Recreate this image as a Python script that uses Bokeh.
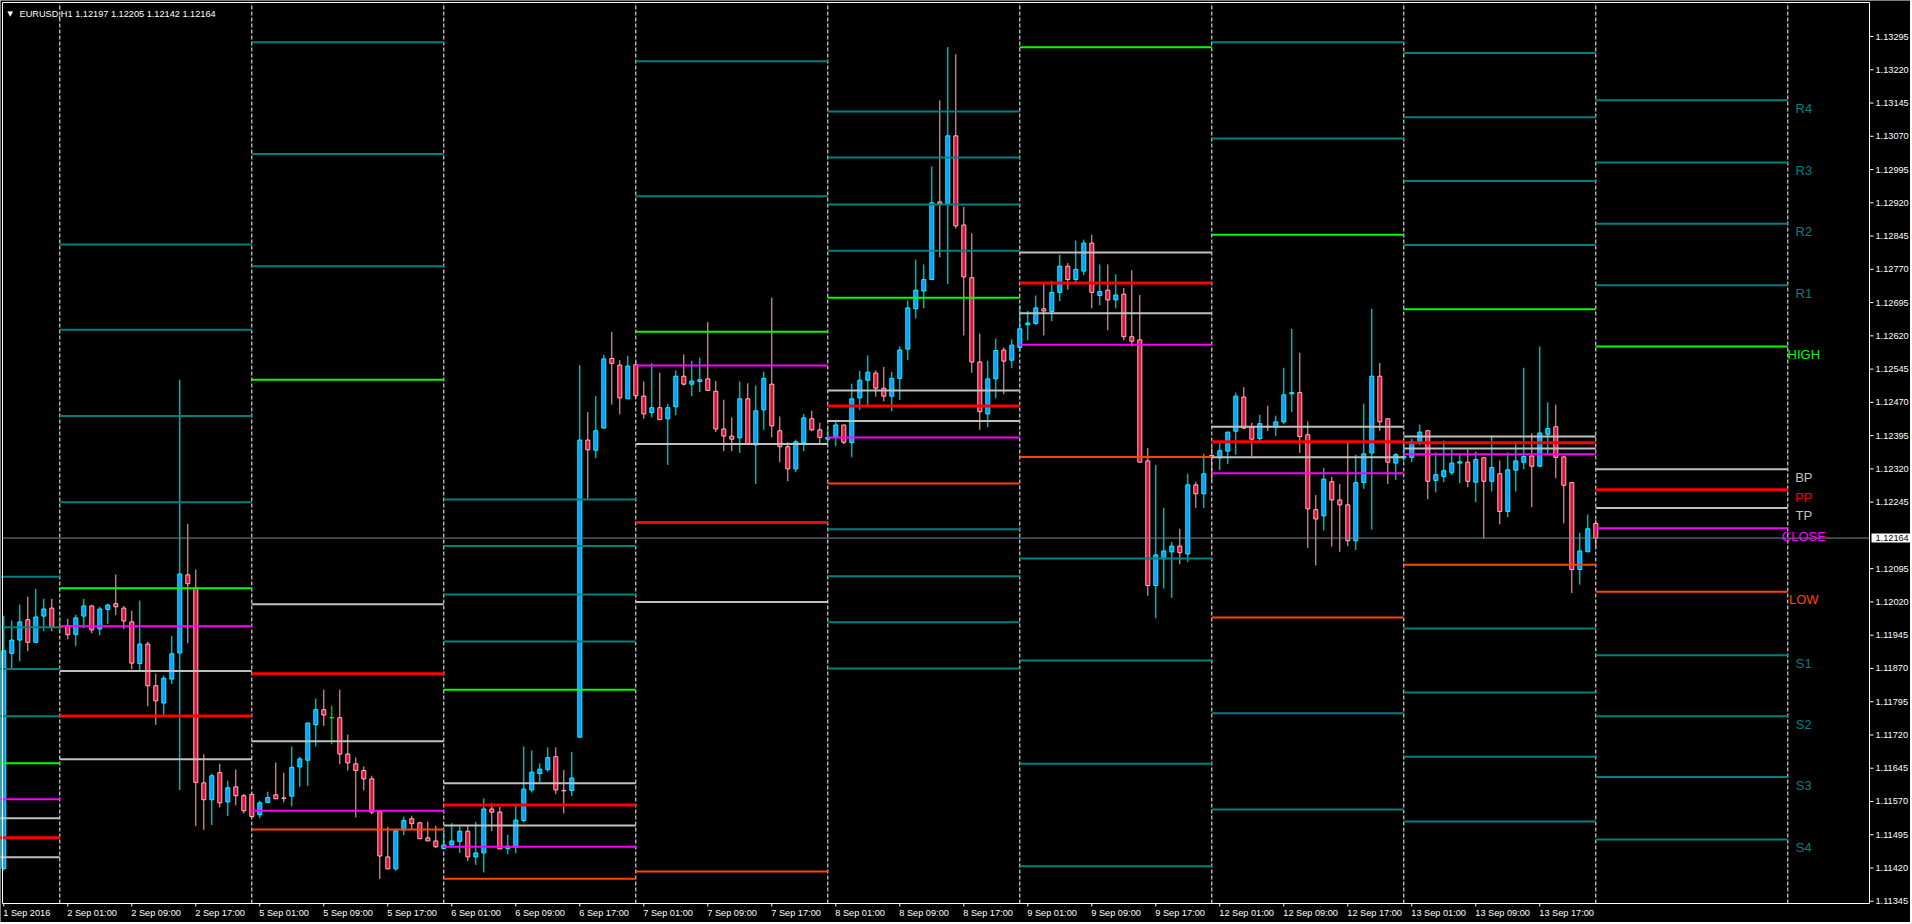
from bokeh.plotting import figure
from bokeh.models import Range1d, ColumnDataSource
from bokeh.embed import file_html
from bokeh.resources import INLINE
from bokeh.core.properties import value

# ---------------- data (EURUSD H1, 1 Sep 17:00 .. 14 Sep 00:00) ----------------
symbol = "EURUSD,H1"
last_ohlc = "1.12197 1.12205 1.12142 1.12164"
bid = 1.12164

opens = [
 1.11419,1.11904,1.11934,1.11980,1.11929,1.11988,1.12006,
 1.11963,1.11966,1.11947,1.11988,1.12011,1.11959,1.12003,1.12016,1.12006,1.11975,1.11881,1.11925,
 1.11831,1.11792,1.11846,1.11905,1.12081,1.12051,1.11612,1.11574,1.11635,1.11569,1.11603,1.11583,
 1.11586,1.11540,1.11568,1.11585,1.11578,1.11582,1.11648,1.11663,1.11743,1.11777,1.11759,1.11759,
 1.11677,1.11655,1.11640,1.11621,1.11547,1.11445,1.11418,1.11506,1.11531,1.11522,1.11488,1.11481,
 1.11464,1.11472,1.11480,1.11503,1.11445,1.11454,1.11553,1.11546,1.11464,1.11467,1.11527,1.11596,
 1.11633,1.11642,1.11671,1.11595,1.11595,1.11715,1.12385,1.12362,1.12412,1.12569,1.12554,1.12478,
 1.12555,1.12484,1.12447,1.12458,1.12433,1.12460,1.12529,1.12511,1.12517,1.12523,1.12495,1.12410,
 1.12394,1.12390,1.12478,1.12374,1.12453,1.12511,1.12406,1.12370,1.12320,1.12379,1.12433,1.12408,
 1.12387,1.12391,1.12419,1.12379,1.12480,1.12520,1.12536,1.12502,1.12484,1.12524,1.12590,1.12681,
 1.12721,1.12747,1.12922,1.12918,1.13071,1.12870,1.12751,1.12561,1.12444,1.12523,1.12588,1.12565,
 1.12594,1.12645,1.12648,1.12681,1.12675,1.12718,1.12777,1.12747,1.12766,1.12829,1.12711,1.12723,
 1.12701,1.12714,1.12618,1.12611,1.12338,1.12057,1.12117,1.12133,1.12146,1.12128,1.12284,1.12264,
 1.12350,1.12345,1.12360,1.12405,1.12482,1.12414,1.12388,1.12416,1.12415,1.12426,1.12489,1.12492,
 1.12397,1.12228,1.12214,1.12291,1.12250,1.12239,1.12158,1.12289,1.12356,1.12529,1.12433,1.12333,
 1.12345,1.12346,1.12382,1.12406,1.12294,1.12303,1.12312,1.12333,1.12335,1.12290,1.12345,1.12292,
 1.12309,1.12224,1.12317,1.12335,1.12349,1.12326,1.12398,1.12415,1.12347,1.12289,1.12093,1.12133,
 1.12197]
highs = [
 1.11989,1.11978,1.12014,1.12032,1.12049,1.12027,1.12027,
 1.11985,1.11982,1.11991,1.12027,1.12013,1.12009,1.12016,1.12082,1.12011,1.12000,1.12023,1.11930,
 1.11858,1.11854,1.11943,1.12521,1.12196,1.12093,1.11676,1.11633,1.11655,1.11617,1.11642,1.11587,
 1.11588,1.11572,1.11592,1.11658,1.11635,1.11694,1.11671,1.11747,1.11802,1.11822,1.11786,1.11822,
 1.11721,1.11669,1.11649,1.11628,1.11551,1.11513,1.11504,1.11536,1.11538,1.11524,1.11524,1.11515,
 1.11504,1.11521,1.11514,1.11514,1.11524,1.11577,1.11566,1.11558,1.11495,1.11565,1.11694,1.11685,
 1.11656,1.11692,1.11692,1.11641,1.11682,1.12554,1.12448,1.12484,1.12577,1.12629,1.12565,1.12575,
 1.12562,1.12517,1.12558,1.12537,1.12467,1.12542,1.12578,1.12564,1.12571,1.12651,1.12518,1.12476,
 1.12436,1.12517,1.12513,1.12508,1.12539,1.12706,1.12438,1.12380,1.12386,1.12444,1.12451,1.12424,
 1.12413,1.12431,1.12419,1.12512,1.12541,1.12576,1.12542,1.12550,1.12539,1.12596,1.12700,1.12792,
 1.12781,1.13002,1.13151,1.13271,1.13255,1.12911,1.12851,1.12625,1.12564,1.12614,1.12594,1.12612,
 1.12688,1.12676,1.12711,1.12740,1.12744,1.12803,1.12784,1.12835,1.12837,1.12848,1.12781,1.12781,
 1.12759,1.12728,1.12768,1.12712,1.12367,1.12329,1.12232,1.12155,1.12185,1.12309,1.12291,1.12354,
 1.12369,1.12379,1.12403,1.12492,1.12504,1.12424,1.12442,1.12462,1.12440,1.12548,1.12636,1.12582,
 1.12427,1.12261,1.12322,1.12302,1.12286,1.12381,1.12352,1.12467,1.12681,1.12559,1.12433,1.12356,
 1.12383,1.12388,1.12420,1.12408,1.12357,1.12384,1.12363,1.12354,1.12364,1.12359,1.12346,1.12395,
 1.12339,1.12357,1.12379,1.12548,1.12400,1.12596,1.12470,1.12465,1.12349,1.12289,1.12176,1.12217,
 1.12205]
lows = [
 1.11414,1.11870,1.11886,1.11909,1.11927,1.11954,1.11954,
 1.11955,1.11936,1.11920,1.11961,1.11949,1.11945,1.11970,1.11990,1.11959,1.11868,1.11864,1.11785,
 1.11743,1.11765,1.11835,1.11596,1.11927,1.11515,1.11506,1.11517,1.11557,1.11537,1.11561,1.11543,
 1.11534,1.11532,1.11566,1.11576,1.11568,1.11559,1.11603,1.11605,1.11694,1.11740,1.11699,1.11654,
 1.11640,1.11534,1.11595,1.11541,1.11395,1.11418,1.11414,1.11494,1.11507,1.11486,1.11481,1.11465,
 1.11463,1.11467,1.11454,1.11435,1.11427,1.11410,1.11503,1.11463,1.11451,1.11453,1.11523,1.11590,
 1.11614,1.11637,1.11587,1.11543,1.11582,1.11715,1.12253,1.12344,1.12412,1.12465,1.12443,1.12478,
 1.12479,1.12433,1.12436,1.12431,1.12329,1.12441,1.12508,1.12484,1.12493,1.12496,1.12403,1.12360,
 1.12360,1.12356,1.12376,1.12286,1.12408,1.12391,1.12335,1.12292,1.12313,1.12360,1.12405,1.12374,
 1.12376,1.12371,1.12376,1.12346,1.12453,1.12459,1.12483,1.12472,1.12450,1.12475,1.12565,1.12659,
 1.12682,1.12747,1.12797,1.12737,1.12862,1.12621,1.12537,1.12408,1.12414,1.12479,1.12489,1.12547,
 1.12584,1.12610,1.12645,1.12621,1.12653,1.12698,1.12724,1.12738,1.12757,1.12682,1.12689,1.12633,
 1.12682,1.12610,1.12596,1.12335,1.12034,1.11983,1.12050,1.12029,1.12105,1.12110,1.12232,1.12232,
 1.12292,1.12317,1.12331,1.12352,1.12410,1.12348,1.12380,1.12405,1.12394,1.12421,1.12448,1.12356,
 1.12142,1.12102,1.12181,1.12145,1.12133,1.12146,1.12137,1.12275,1.12183,1.12406,1.12286,1.12295,
 1.12338,1.12335,1.12373,1.12252,1.12267,1.12290,1.12306,1.12288,1.12279,1.12245,1.12163,1.12269,
 1.12195,1.12211,1.12269,1.12319,1.12234,1.12324,1.12355,1.12299,1.12197,1.12040,1.12059,1.12133,
 1.12142]
closes = [
 1.11910,1.11934,1.11975,1.11929,1.11986,1.12004,1.11963,
 1.11963,1.11946,1.11984,1.12011,1.11957,1.12004,1.12013,1.12009,1.11977,1.11882,1.11925,1.11831,
 1.11797,1.11848,1.11903,1.12083,1.12061,1.11613,1.11574,1.11628,1.11567,1.11601,1.11583,1.11549,
 1.11536,1.11567,1.11579,1.11576,1.11577,1.11647,1.11666,1.11747,1.11777,1.11765,1.11759,1.11677,
 1.11657,1.11640,1.11621,1.11546,1.11447,1.11418,1.11504,1.11527,1.11520,1.11486,1.11481,1.11468,
 1.11472,1.11481,1.11503,1.11445,1.11454,1.11553,1.11546,1.11463,1.11469,1.11528,1.11598,1.11636,
 1.11643,1.11669,1.11596,1.11594,1.11623,1.12385,1.12363,1.12406,1.12568,1.12558,1.12480,1.12552,
 1.12485,1.12444,1.12458,1.12431,1.12458,1.12529,1.12511,1.12518,1.12521,1.12497,1.12410,1.12394,
 1.12387,1.12478,1.12376,1.12451,1.12524,1.12417,1.12370,1.12320,1.12381,1.12435,1.12408,1.12391,
 1.12391,1.12419,1.12380,1.12478,1.12520,1.12538,1.12502,1.12484,1.12524,1.12588,1.12683,1.12723,
 1.12747,1.12920,1.12918,1.13071,1.12868,1.12753,1.12561,1.12449,1.12523,1.12587,1.12563,1.12599,
 1.12636,1.12649,1.12683,1.12676,1.12718,1.12777,1.12747,1.12770,1.12829,1.12718,1.12720,1.12701,
 1.12712,1.12618,1.12608,1.12335,1.12057,1.12126,1.12135,1.12146,1.12131,1.12284,1.12264,1.12309,
 1.12349,1.12361,1.12403,1.12484,1.12412,1.12387,1.12422,1.12415,1.12426,1.12487,1.12492,1.12393,
 1.12230,1.12207,1.12297,1.12250,1.12239,1.12158,1.12289,1.12354,1.12529,1.12426,1.12335,1.12352,
 1.12348,1.12381,1.12403,1.12292,1.12307,1.12316,1.12333,1.12336,1.12292,1.12341,1.12292,1.12323,
 1.12224,1.12318,1.12338,1.12348,1.12326,1.12401,1.12411,1.12346,1.12283,1.12093,1.12135,1.12185,
 1.12164]

# time axis labels (one every 8 bars, starting at bar 0 = 1 Sep 17:00)
time_labels = ["1 Sep 2016", "2 Sep 01:00", "2 Sep 09:00", "2 Sep 17:00", "5 Sep 01:00",
               "5 Sep 09:00", "5 Sep 17:00", "6 Sep 01:00", "6 Sep 09:00", "6 Sep 17:00",
               "7 Sep 01:00", "7 Sep 09:00", "7 Sep 17:00", "8 Sep 01:00", "8 Sep 09:00",
               "8 Sep 17:00", "9 Sep 01:00", "9 Sep 09:00", "9 Sep 17:00", "12 Sep 01:00",
               "12 Sep 09:00", "12 Sep 17:00", "13 Sep 01:00", "13 Sep 09:00", "13 Sep 17:00"]
price_ticks = [1.13295, 1.13220, 1.13145, 1.13070, 1.12995, 1.12920, 1.12845, 1.12770,
               1.12695, 1.12620, 1.12545, 1.12470, 1.12395, 1.12320, 1.12245, 1.12095,
               1.12020, 1.11945, 1.11870, 1.11795, 1.11720, 1.11645, 1.11570, 1.11495,
               1.11420, 1.11345]

# daily pivot levels (from previous day's H/L/C), days: 1,2,5,6,7,8,9,12,13,14 Sep
days = ["1 Sep", "2 Sep", "5 Sep", "6 Sep", "7 Sep", "8 Sep", "9 Sep", "12 Sep", "13 Sep", "14 Sep"]
day_first_bar = [-17, 7, 31, 55, 79, 103, 127, 151, 175, 199]
R4 = [1.12077, 1.12826, None, 1.12251, None, 1.13126, None, None, 1.13258, 1.13151]
R3 = [1.11963, 1.12634, 1.13282, 1.12146, None, 1.13022, None, None, 1.13113, 1.13011]
R2 = [1.11869, 1.12439, 1.13030, 1.12037, 1.13239, 1.12916, None, 1.13282, 1.12969, 1.12873]
R1 = [1.11762, 1.12245, 1.12777, 1.11931, 1.12935, 1.12812, None, 1.13065, 1.12825, 1.12734]
HIGH = [1.11656, 1.12051, 1.12521, 1.11822, 1.12629, 1.12706, 1.13271, 1.12848, 1.12680, 1.12596]
BP = [1.11532, 1.11864, 1.12015, 1.11611, 1.12376, 1.12497, 1.12808, 1.12415, 1.12393, 1.12319]
PP = [1.11488, 1.11763, 1.11858, 1.11562, 1.12199, 1.12462, 1.12739, 1.12381, 1.12379, 1.12273]
TP = [1.11444, 1.11665, 1.11706, 1.11516, 1.12020, 1.12428, 1.12671, 1.12346, 1.12366, 1.12232]
CLOSE = [1.11575, 1.11965, 1.11549, 1.11468, 1.12553, 1.12391, 1.12600, 1.12310, 1.12353, 1.12186]
LOW = [None, None, 1.11507, 1.11396, 1.11412, 1.12287, 1.12347, 1.11985, 1.12104, 1.12043]
S1 = [None, None, None, None, None, 1.12184, 1.12118, 1.11769, 1.11960, 1.11900]
S2 = [None, None, None, None, None, 1.12078, 1.11888, 1.11552, 1.11816, 1.11762]
S3 = [None, None, None, None, None, 1.11974, 1.11655, None, 1.11671, 1.11625]
S4 = [None, None, None, None, None, 1.11870, 1.11424, None, 1.11525, 1.11484]

# ---------------- styles / layout ----------------
TEAL, LIME, SILVER, RED, MAGENTA, ORANGE = "#008080", "#00FF00", "#C0C0C0", "#FF0000", "#FF00FF", "#FF4500"
levels = [("R4", R4, TEAL, 2), ("R3", R3, TEAL, 2), ("R2", R2, TEAL, 2), ("R1", R1, TEAL, 2),
          ("HIGH", HIGH, LIME, 2), ("BP", BP, SILVER, 2), ("PP", PP, RED, 3), ("TP", TP, SILVER, 2),
          ("CLOSE", CLOSE, MAGENTA, 2), ("LOW", LOW, ORANGE, 2), ("S1", S1, TEAL, 2),
          ("S2", S2, TEAL, 2), ("S3", S3, TEAL, 2), ("S4", S4, TEAL, 2)]
FONT = "Liberation Sans"
W, H = 1910, 922
BAR_PX = 8.0            # pixels per bar
BAR0_PX = 3.3           # screen x of bar 0
PX_PER_PRICE = 44347.0  # pixels per 1.0 of price
REF_PRICE, REF_PX = 1.13295, 36.0
BOX = dict(left=2, right=1869, top=2, bottom=903)   # chart window in screen px

def X(px):
    return (px - BAR0_PX) / BAR_PX

def Y(py):
    return REF_PRICE - (py - REF_PX) / PX_PER_PRICE

def dx(px):
    return px / BAR_PX

def dy(py):
    return py / PX_PER_PRICE

p = figure(width=W, height=H, output_backend="svg", toolbar_location=None,
           x_range=Range1d(X(0), X(W)), y_range=Range1d(Y(H), Y(0)),
           x_axis_location=None, y_axis_location=None, min_border=0,
           background_fill_color="black", border_fill_color="black", outline_line_color=None)
p.grid.visible = False

xl, xr, yt, yb = X(BOX["left"]), X(BOX["right"]), Y(BOX["top"]), Y(BOX["bottom"])

# day separators (dashed)
seps = day_first_bar[1:] + [day_first_bar[-1] + 24]
p.segment(x0=seps, y0=[yb] * len(seps), x1=seps, y1=[yt] * len(seps),
          line_color="white", line_width=1, line_dash="4 2")

# candles
n = len(opens)
fill, line, wick, top, bot = [], [], [], [], []
for o, c in zip(opens, closes):
    if c > o:
        fill.append("#1E90FF"); line.append("#00FFFF"); wick.append("#00FFFF")
    elif c < o:
        fill.append("#DC143C"); line.append("#FFB6C1"); wick.append("#FFB6C1")
    else:
        fill.append("#00FF00"); line.append("#00FF00"); wick.append("#00FF00")
    top.append(max(o, c)); bot.append(min(o, c))
src = ColumnDataSource(dict(x=list(range(n)), o=opens, h=highs, l=lows, c=closes,
                            top=top, bot=bot, fill=fill, line=line, wick=wick))
p.segment(x0="x", y0="l", x1="x", y1="h", line_color="wick", line_width=1, source=src)
p.vbar(x="x", width=0.5, top="top", bottom="bot", fill_color="fill", line_color="line",
       line_width=1, source=src)

# bid line
p.segment(x0=[xl], y0=[bid], x1=[xr], y1=[bid], line_color="#778899", line_width=1)

# pivot level segments
for name, vals, col, lw in levels:
    x0s, x1s, ys = [], [], []
    for k, v in enumerate(vals):
        if v is not None:
            x0s.append(day_first_bar[k]); x1s.append(day_first_bar[k] + 24); ys.append(v)
    p.segment(x0=x0s, y0=ys, x1=x1s, y1=ys, line_color=col, line_width=lw)

# labels for the last day's levels
lab_x, lab_y, lab_t, lab_c = [], [], [], []
for name, vals, col, lw in levels:
    if vals[-1] is not None:
        lab_x.append(day_first_bar[-1] + 26); lab_y.append(vals[-1]); lab_t.append(name); lab_c.append(col)
p.text(x=lab_x, y=lab_y, text=lab_t, text_color=lab_c, text_font=value(FONT),
       text_font_size="13px", text_align="center", text_baseline="middle", y_offset=8)

# chart window border
p.line(x=[xl, xr, xr, xl, xl], y=[yt, yt, yb, yb, yt], line_color="white", line_width=1)

# price scale (right)
p.segment(x0=[xr] * len(price_ticks), y0=price_ticks, x1=[xr + dx(4)] * len(price_ticks),
          y1=price_ticks, line_color="white", line_width=1)
p.text(x=[xr + dx(6)] * len(price_ticks), y=price_ticks, text=["%.5f" % t for t in price_ticks],
       text_color="white", text_font=value(FONT), text_font_size="9.2px",
       text_align="left", text_baseline="middle")
# current price box
p.quad(left=[xr + dx(2)], right=[X(W)], top=[bid + dy(4.5)], bottom=[bid - dy(4.5)],
       fill_color="white", line_color=None)
p.text(x=[xr + dx(6)], y=[bid], text=["%.5f" % bid], text_color="black", text_font=value(FONT),
       text_font_size="9.2px", text_align="left", text_baseline="middle")

# time scale (bottom)
tick_bars = [8 * k for k in range(len(time_labels))]
p.segment(x0=tick_bars, y0=[yb] * len(tick_bars), x1=tick_bars, y1=[yb - dy(3)] * len(tick_bars),
          line_color="white", line_width=1)
p.text(x=tick_bars, y=[yb - dy(9.5)] * len(tick_bars), text=time_labels, text_color="white",
       text_font=value(FONT), text_font_size="9.2px", text_align="left", text_baseline="middle",
       x_offset=-0.5)

# title
p.text(x=[X(7)], y=[Y(13)], text=["\u25bc"], text_color="white", text_font=value("DejaVu Sans"),
       text_font_size="7px", text_align="left", text_baseline="middle")
p.text(x=[X(19)], y=[Y(13)], text=[symbol + "  " + last_ohlc], text_color="white",
       text_font=value(FONT), text_font_size="9.2px", text_align="left", text_baseline="middle")

open("out.html", "w").write(file_html(p, INLINE))
